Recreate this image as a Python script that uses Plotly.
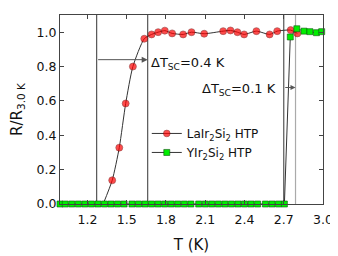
import plotly.graph_objects as go

# LaIr2Si2 HTP (red circles)
la_T = [1.32, 1.389, 1.443, 1.492, 1.547, 1.634, 1.690, 1.740, 1.791, 1.847, 1.931, 1.995,
        2.092, 2.237, 2.293, 2.346, 2.397, 2.491, 2.592, 2.650, 2.753, 2.804]
la_R = [0.0, 0.138, 0.328, 0.585, 0.800, 0.962, 0.987, 1.000, 1.009, 0.993, 0.987, 1.000,
        0.991, 1.006, 1.010, 1.000, 0.987, 1.006, 0.987, 1.006, 1.012, 0.993]

# YIr2Si2 HTP (green squares)
y_T = [0.99, 1.03, 1.08, 1.13, 1.18, 1.23, 1.28, 1.33, 1.38, 1.43, 1.48, 1.54, 1.59, 1.64,
       1.69, 1.74, 1.79, 1.84, 1.89, 1.94, 1.99, 2.05, 2.10, 2.15, 2.20, 2.25, 2.30, 2.35,
       2.40, 2.45, 2.50, 2.56, 2.61, 2.66, 2.705, 2.75, 2.80, 2.855, 2.90, 2.95, 2.99]
y_R = [0.0] * 35 + [0.972, 1.020, 1.006, 1.003, 0.997, 1.003]

# Transition markers
tc_lines = [1.27, 1.66, 2.70, 2.79]
dT_labels = ["ΔT<sub>SC</sub>=0.4 K", "ΔT<sub>SC</sub>=0.1 K"]

x_ticks = [1.2, 1.5, 1.8, 2.1, 2.4, 2.7, 3.0]
y_ticks = [0.0, 0.2, 0.4, 0.6, 0.8, 1.0]

FONT = "DejaVu Sans, Arial, sans-serif"
AX = "#444444"

fig = go.Figure()

la_sizes = [0] + [7] * (len(la_T) - 1)
fig.add_trace(go.Scatter(
    x=la_T, y=la_R, mode="lines+markers",
    name="LaIr<sub>2</sub>Si<sub>2</sub> HTP",
    line=dict(color="#333333", width=1, shape="spline", smoothing=0.6),
    marker=dict(symbol="circle", size=la_sizes, color="#ff0000",
                line=dict(color="#660000", width=0.6)),
    cliponaxis=False,
))
fig.add_trace(go.Scatter(
    x=y_T, y=y_R, mode="lines+markers",
    name="YIr<sub>2</sub>Si<sub>2</sub> HTP",
    line=dict(color="#333333", width=1),
    marker=dict(symbol="square", size=6, color="#00ee00",
                line=dict(color="#115511", width=0.6)),
    cliponaxis=False,
))

line_cols = ["#555555", "#555555", "#555555", "#aaaaaa"]
for xv, c in zip(tc_lines, line_cols):
    fig.add_shape(type="line", xref="x", yref="paper", x0=xv, x1=xv, y0=0, y1=1,
                  line=dict(color=c, width=1.2), layer="below")

# Arrows
fig.add_annotation(x=tc_lines[1], y=0.84, ax=tc_lines[0], ay=0.84, xref="x", yref="y",
                   axref="x", ayref="y", showarrow=True, arrowhead=2, arrowsize=1.2,
                   arrowwidth=1, arrowcolor="#555555", text="")
fig.add_annotation(x=tc_lines[3], y=0.678, ax=tc_lines[2], ay=0.678, xref="x", yref="y",
                   axref="x", ayref="y", showarrow=True, arrowhead=2, arrowsize=1,
                   arrowwidth=1, arrowcolor="#555555", text="")

fig.add_annotation(x=1.67, y=0.82, xref="x", yref="y", text=dT_labels[0], showarrow=False,
                   xanchor="left", yanchor="middle", font=dict(size=13, color="#111111", family=FONT))
fig.add_annotation(x=2.655, y=0.665, xref="x", yref="y", text=dT_labels[1], showarrow=False,
                   xanchor="right", yanchor="middle", font=dict(size=13, color="#111111", family=FONT))

# page body has an 8px margin: size/margins chosen so the plot box lands at x 60-323, y 15-204
fig.update_layout(
    width=330, height=248,
    margin=dict(l=52, r=15, t=7, b=52),
    paper_bgcolor="white", plot_bgcolor="white",
    font=dict(family=FONT, size=12, color="#111111"),
    showlegend=True,
    legend=dict(x=0.33, y=0.45, xanchor="left", yanchor="top",
                bgcolor="rgba(0,0,0,0)", font=dict(size=12, family=FONT),
                tracegroupgap=0),
)
fig.update_xaxes(
    range=[0.99, 3.0], tickvals=x_ticks, ticktext=[f"{v:.1f}" for v in x_ticks],
    ticks="inside", ticklen=4, tickcolor=AX, showline=True, linecolor=AX, linewidth=1,
    mirror="ticks", showgrid=False, zeroline=False, automargin=False,
    tickfont=dict(size=12.5, family=FONT), ticklabelstandoff=4,
    title=dict(text="T (K)", font=dict(size=15, family=FONT), standoff=13),
)
fig.update_yaxes(
    range=[0, 1.1], tickvals=y_ticks, ticktext=[f"{v:.1f}" for v in y_ticks],
    ticks="inside", ticklen=4, tickcolor=AX, showline=True, linecolor=AX, linewidth=1,
    mirror="ticks", showgrid=False, zeroline=False, automargin=False,
    tickfont=dict(size=12.5, family=FONT),
    title=dict(text="R/R<sub>3.0 K</sub>", font=dict(size=15, family=FONT), standoff=12),
)

fig.write_html("out.html")
